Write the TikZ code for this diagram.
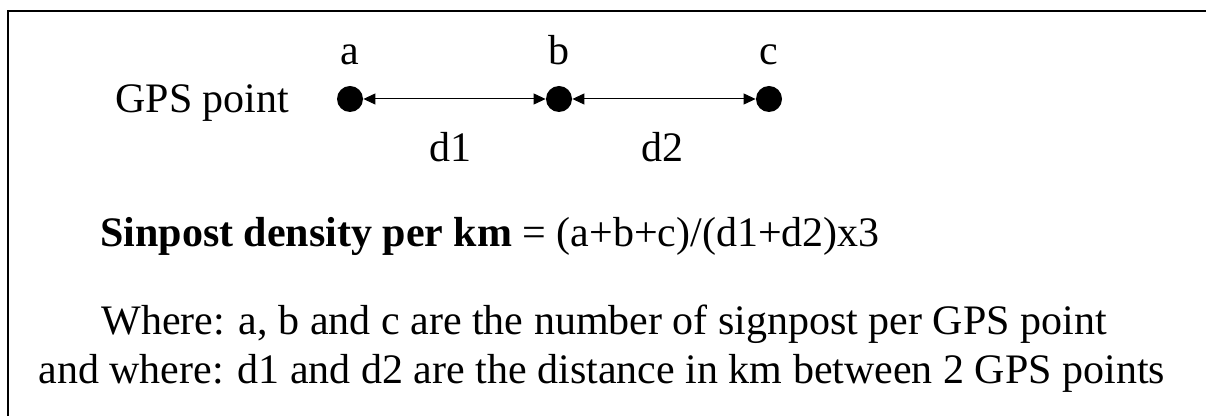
\documentclass[tikz,border=0pt]{standalone}
\usepackage{fontspec}
\setmainfont{Liberation Serif}
\usetikzlibrary{arrows.meta}

\begin{document}
\begin{tikzpicture}[x=0.5pt,y=-0.5pt,>={Triangle[length=6pt,width=5.5pt]},
  txt/.style={font=\fontsize{21}{25}\selectfont,inner sep=0pt,anchor=base west},
  gps/.style={circle,fill=black,inner sep=0pt,minimum size=13pt}]
  \useasboundingbox (0,0) rectangle (1206,416);
  \draw[line width=1pt] (8,440) -- (8,11) -- (1230,11);
  \node[txt] (gpslabel) at (115,113) {GPS point};
  \node[gps] (ga) at (350,99) {};
  \node[gps] (gb) at (559,99) {};
  \node[gps] (gc) at (769,99) {};
  \node[txt,anchor=base] (la) at (350,65) {a};
  \node[txt,anchor=base] (lb) at (559,65) {b};
  \node[txt,anchor=base] (lc) at (769,65) {c};
  \draw[<->, line width=0.5pt] (ga) -- (gb);
  \draw[<->, line width=0.5pt] (gb) -- (gc);
  \node[txt,anchor=base] (d1) at (450,162) {d1};
  \node[txt,anchor=base] (d2) at (662,162) {d2};
  \node[txt] (formula) at (100,247) {\textbf{Sinpost density per km} = (a+b+c)/(d1+d2)x3};
  \node[txt] (where1) at (101,335) {Where: a, b and c are the number of signpost per GPS point};
  \node[txt] (where2) at (38,384) {and where: d1 and d2 are the distance in km between 2 GPS points};
\end{tikzpicture}
\end{document}
